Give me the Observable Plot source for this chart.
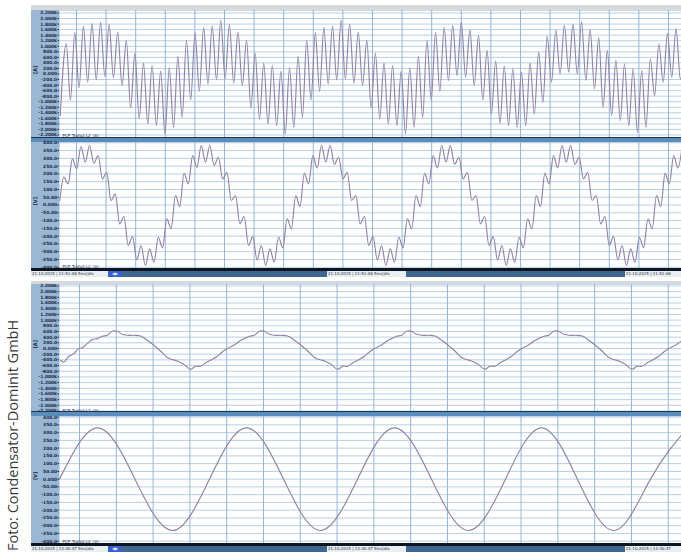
<!DOCTYPE html>
<html><head><meta charset="utf-8">
<script src="https://cdn.jsdelivr.net/npm/d3@7"></script>
<script src="https://cdn.jsdelivr.net/npm/@observablehq/plot@0.6"></script>
<style>
body{margin:0;background:#fff;}
#page{position:relative;width:681px;height:552px;overflow:hidden;background:#fff;font-family:"DejaVu Sans",sans-serif;}
.abs{position:absolute;}
.credit{position:absolute;left:3px;top:551px;transform:rotate(-90deg);transform-origin:0 0;white-space:nowrap;font-family:"Open Sans","Noto Sans",sans-serif;font-size:14.5px;color:#3a3a3a;line-height:20px;}
.box{position:absolute;background:#e9eef3;color:#1d2a3a;font-size:4px;line-height:6px;white-space:nowrap;overflow:hidden;padding-left:1px;}
.bluebox{position:absolute;background:#3a5fd0;color:#dfe8ff;font-size:4px;line-height:6px;white-space:nowrap;overflow:hidden;text-align:center;}
</style></head><body><div id="page"></div>
<script>
// ---------- tick labels ----------
const currentTicks = [2200,2000,1800,1600,1400,1200,1000,800,600,400,200,0,-200,-400,-600,-800,-1000,-1200,-1400,-1600,-1800,-2000,-2200];
const currentLabels = ["2.200k","2.000k","1.800k","1.600k","1.400k","1.200k","1.000k","800.0","600.0","400.0","200.0","0.000","-200.0","-400.0","-600.0","-800.0","-1.000k","-1.200k","-1.400k","-1.600k","-1.800k","-2.000k","-2.200k"];
const voltageTicks = [400,350,300,250,200,150,100,50,0,-50,-100,-150,-200,-250,-300,-350,-400];
const voltageLabels = ["400.0","350.0","300.0","250.0","200.0","150.0","100.0","50.00","0.000","-50.00","-100.0","-150.0","-200.0","-250.0","-300.0","-350.0","-400.0"];
const topGridMs = [0,5,10,15,20,25,30,35,40,45,50,55,60,65,70,75,80,85,90,95,100];
const bottomGridMs = [0,5,10,15,20,25,30,35,40,45,50,55,60,65,70,75,80];

// ---------- top block: current with resonance ripple (A), extrema ----------
const topCurrentStart = {t: -2.75, v: -1500};
const topCurrentFirstPeakMs = -1.74;   // time of first ripple maximum
const topCurrentRippleMs = 1.451;      // spacing between ripple maxima
const topCurrentPeaks = [1090,1490,1720,1817,1853,1790,1513,1213,753,391,308,101,224,633,1213,1490,1672,1732,1937,1790,1513,
  1213,753,391,308,101,224,633,1213,1490,1672,1732,1937,1790,1513,1213,753,391,308,101,224,633,1213,1490,
  1672,1756,1875,1600,1394,851,463,282,188,65,391,790,1358,1575,1756,1792,1875,1600,1310,851,489,369,188,127,550,1090,1455,1636,1750];
const topCurrentTroughs = [-935,-500,-296,-210,-90,-138,-416,-1224,-1622,-1803,-1864,-2165,-1925,-1563,-935,-622,-356,-210,-174,-332,
  -416,-1224,-1622,-1803,-1864,-2165,-1925,-1563,-935,-622,-356,-210,-174,-332,-416,-1224,-1622,-1803,-1864,-2165,-1925,-1563,-935,-622,
  -235,-54,-116,-416,-935,-1441,-1780,-1864,-1925,-1864,-1441,-1020,-296,7,65,7,-235,-536,-1202,-1503,-1683,-1864,-2106,-1925,-778,-296,-116,-200];

// ---------- top block: voltage with ripple (V) ----------
const topVoltageStart = {t: -2.82, v: 29};
const topVoltageFirstMaxMs = -2.145;
const topVoltageRippleMs = 1.451;
const topVoltageMaxima = [179,297,376,383,318,211,72,-74,-203,-260,-282,-207,-89,61,204,318,383,383,307,211,61,
  -74,-203,-260,-282,-207,-89,61,204,318,383,383,307,211,61,-74,-203,-260,-282,-207,-89,61,204,318,383,383,307,211,61,
  -74,-203,-260,-282,-207,-89,61,204,318,383,383,307,211,61,-74,-203,-260,-282,-207,-89,61,204,318,383];
const topVoltageMinima = [136,233,275,269,168,29,-121,-260,-353,-389,-368,-275,-153,-10,136,243,275,254,168,29,
  -121,-260,-353,-389,-368,-275,-153,-10,136,238,275,262,168,29,-121,-260,-353,-389,-368,-275,-153,-10,136,238,275,262,168,29,
  -121,-260,-353,-389,-368,-275,-153,-10,136,238,275,262,168,29,-121,-260,-353,-389,-368,-275,-153,-10,136,238];

// ---------- bottom block: filtered current (A) ----------
const bottomCurrentMs = [-2.58,-2.13,-1.45,-0.77,-0.10,0.37,1.05,1.73,2.40,3.08,3.76,4.44,5.12,5.80,6.48,7.38,8.29,9.20,10.10,11.00,11.92,12.60,13.28,14.17,15.08,15.76,16.44,17.12,17.80,18.71,19.39,20.07,20.96,21.88,
  22.40,23.08,23.76,24.44,25.12,25.80,26.48,27.38,28.29,29.20,30.10,31.00,31.92,32.60,33.28,34.17,35.08,35.76,36.44,37.12,37.80,38.71,39.39,40.07,40.96,41.88,
  42.40,43.08,43.76,44.44,45.12,45.80,46.48,47.38,48.29,49.20,50.10,51.00,51.92,52.60,53.28,54.17,55.08,55.76,56.44,57.12,57.80,58.71,59.39,60.07,60.96,61.88,
  62.40,63.08,63.76,64.44,65.12,65.80,66.48,67.38,68.29,69.20,70.10,71.00,71.92,72.60,73.28,74.17,75.08,75.76,76.44,77.12,77.80,78.71,79.39,80.07,80.96,81.88];
const bottomCurrentA = [-415,-475,-275,-180,0,30,170,313,348,430,465,605,605,500,465,465,440,290,113,-88,-320,-390,-440,-556,-732,-626,-626,-510,-415,-275,-123,0,113,278,
  348,430,465,605,605,500,465,465,440,290,113,-88,-320,-390,-440,-556,-732,-626,-626,-510,-415,-275,-123,0,113,278,
  348,430,465,605,605,500,465,465,440,290,113,-88,-320,-390,-440,-556,-732,-626,-626,-510,-415,-275,-123,0,113,278,
  348,430,465,605,605,500,465,465,440,290,113,-88,-320,-390,-440,-556,-732,-626,-626,-510,-415,-275,-123,0,113,278];

// ---------- bottom block: voltage (V), extrema and zero crossings ----------
const bottomVoltageMs = [-2.72,2.45,7.54,12.64,17.66,22.69,27.72,32.74,37.77,42.80,47.83,52.85,57.88,62.77,67.66,72.69,77.58,82.61];
const bottomVoltageV = [0,331,0,-331,0,331,0,-331,0,331,0,-331,0,331,0,-331,0,331];

// ---------- status bar texts ----------
const topStatus = ["21.10.2015 | 11:51:06  5ms/div", "21.10.2015 | 11:51:06  5ms/div", "21.10.2015 | 11:51:06"];
const bottomStatus = ["21.10.2015 | 13:30:47  5ms/div", "21.10.2015 | 13:30:47  5ms/div", "21.10.2015 | 13:30:47"];

// ---------- build series ----------
function rippleSeries(start, first, step, maxima, minima) {
  const out = [start];
  maxima.forEach((v, i) => {
    out.push({t: first + i * step, v});
    if (i < minima.length) out.push({t: first + i * step + step / 2, v: minima[i]});
  });
  return out;
}
const s1 = rippleSeries(topCurrentStart, topCurrentFirstPeakMs, topCurrentRippleMs, topCurrentPeaks, topCurrentTroughs);
const s2 = rippleSeries(topVoltageStart, topVoltageFirstMaxMs, topVoltageRippleMs, topVoltageMaxima, topVoltageMinima);
const s3 = bottomCurrentMs.map((t, i) => ({t, v: bottomCurrentA[i]}));
const s4 = bottomVoltageMs.map((t, i) => ({t, v: bottomVoltageV[i]}));

const page = document.getElementById("page");
const STRIP = "#9ab8d4", WAVE = "#9283a4";

function add(html) { page.insertAdjacentHTML("beforeend", html); }

function panel({top, height, xDomain, yDomain, ticks, labels, unit, name, data, curve, grid}) {
  const lab = new Map(ticks.map((d, i) => [d, labels[i]]));
  const wrap = document.createElement("div");
  wrap.className = "abs";
  Object.assign(wrap.style, {left: "31px", top: top + "px", width: "650px", height: height + "px", background: STRIP});
  const chart = Plot.plot({
    width: 650, height, marginLeft: 28, marginRight: 0, marginTop: 0, marginBottom: 0,
    style: {background: "transparent", overflow: "visible", fontFamily: "DejaVu Sans"},
    x: {domain: xDomain, axis: null},
    y: {domain: yDomain, axis: null},
    marks: [
      Plot.frame({fill: "white", stroke: null}),
      Plot.gridY(ticks, {stroke: "#b8cfe6", strokeOpacity: 1, strokeWidth: 1}),
      Plot.gridX(grid, {stroke: "#95b5d6", strokeOpacity: 1, strokeWidth: 1}),
      Plot.axisY(ticks, {label: null, tickFormat: d => lab.get(d), tickSize: 1.5, tickPadding: 1, fontSize: 4.4, fill: "#1b2c48", stroke: "#1b2c48", fontWeight: "bold"}),
      Plot.text([unit], {frameAnchor: "left", dx: -24, rotate: -90, fontSize: 5, fill: "#1b2c48", fontWeight: "bold"}),
      Plot.line(data, {x: "t", y: "v", stroke: WAVE, strokeWidth: 1.15, curve, clip: true}),
      Plot.text([name], {frameAnchor: "bottom-left", dx: 3, dy: -1, lineAnchor: "bottom", textAnchor: "start", fontSize: 4, fill: "#2b2b40"})
    ]
  });
  wrap.appendChild(chart);
  page.appendChild(wrap);
}

function statusBar(top, texts) {
  add(`<div class="abs" style="left:31px;top:${top}px;width:650px;height:3px;background:#0d1620"></div><div class="abs" style="left:31px;top:${top + 3}px;width:650px;height:6px;background:#3f668e"></div>`);
  add(`<div class="box" style="left:31px;top:${top + 3}px;width:76px;height:6px">${texts[0]}</div><div class="bluebox" style="left:108px;top:${top + 3}px;width:14px;height:6px">&#9664;&#9654;</div>`);
  add(`<div class="box" style="left:327px;top:${top + 3}px;width:78px;height:6px">${texts[1]}</div>`);
  add(`<div class="box" style="left:625px;top:${top + 3}px;width:56px;height:6px">${texts[2]}</div>`);
}
function divider(top) {
  add(`<div class="abs" style="left:31px;top:${top}px;width:650px;height:1px;background:#1e3550"></div><div class="abs" style="left:31px;top:${top + 1}px;width:650px;height:4px;background:#5a8cbc"></div>`);
}

// frame decorations
add('<div class="abs" style="left:31px;top:5px;width:650px;height:5px;background:#d6d9dc"></div>');
add('<div class="abs" style="left:31px;top:281px;width:650px;height:3px;background:#d6d9dc"></div>');

panel({top: 10, height: 127, xDomain: [-2.87, 102.2], yDomain: [-2290, 2290], ticks: currentTicks, labels: currentLabels,
  unit: "[A]", name: "PCP_Trafo2.L2  (A)", data: s1, curve: "monotone-x", grid: topGridMs});
divider(137);
panel({top: 142, height: 126, xDomain: [-2.87, 102.2], yDomain: [-408, 402], ticks: voltageTicks, labels: voltageLabels,
  unit: "[V]", name: "PCP_Trafo2.L2  (V)", data: s2, curve: "monotone-x", grid: topGridMs});
statusBar(268, topStatus);

panel({top: 284, height: 128, xDomain: [-2.72, 81.8], yDomain: [-2253, 2253], ticks: currentTicks, labels: currentLabels,
  unit: "[A]", name: "PCP_Trafo2.L2  (A)", data: s3, curve: "catmull-rom", grid: bottomGridMs});
divider(411);
panel({top: 416, height: 127, xDomain: [-2.72, 81.8], yDomain: [-415, 404], ticks: voltageTicks, labels: voltageLabels,
  unit: "[V]", name: "PCP_Trafo2.L2  (V)", data: s4, curve: "natural", grid: bottomGridMs});
statusBar(543, bottomStatus);

add('<div class="credit">Foto: Condensator-Dominit GmbH</div>');
</script>
</body></html>
